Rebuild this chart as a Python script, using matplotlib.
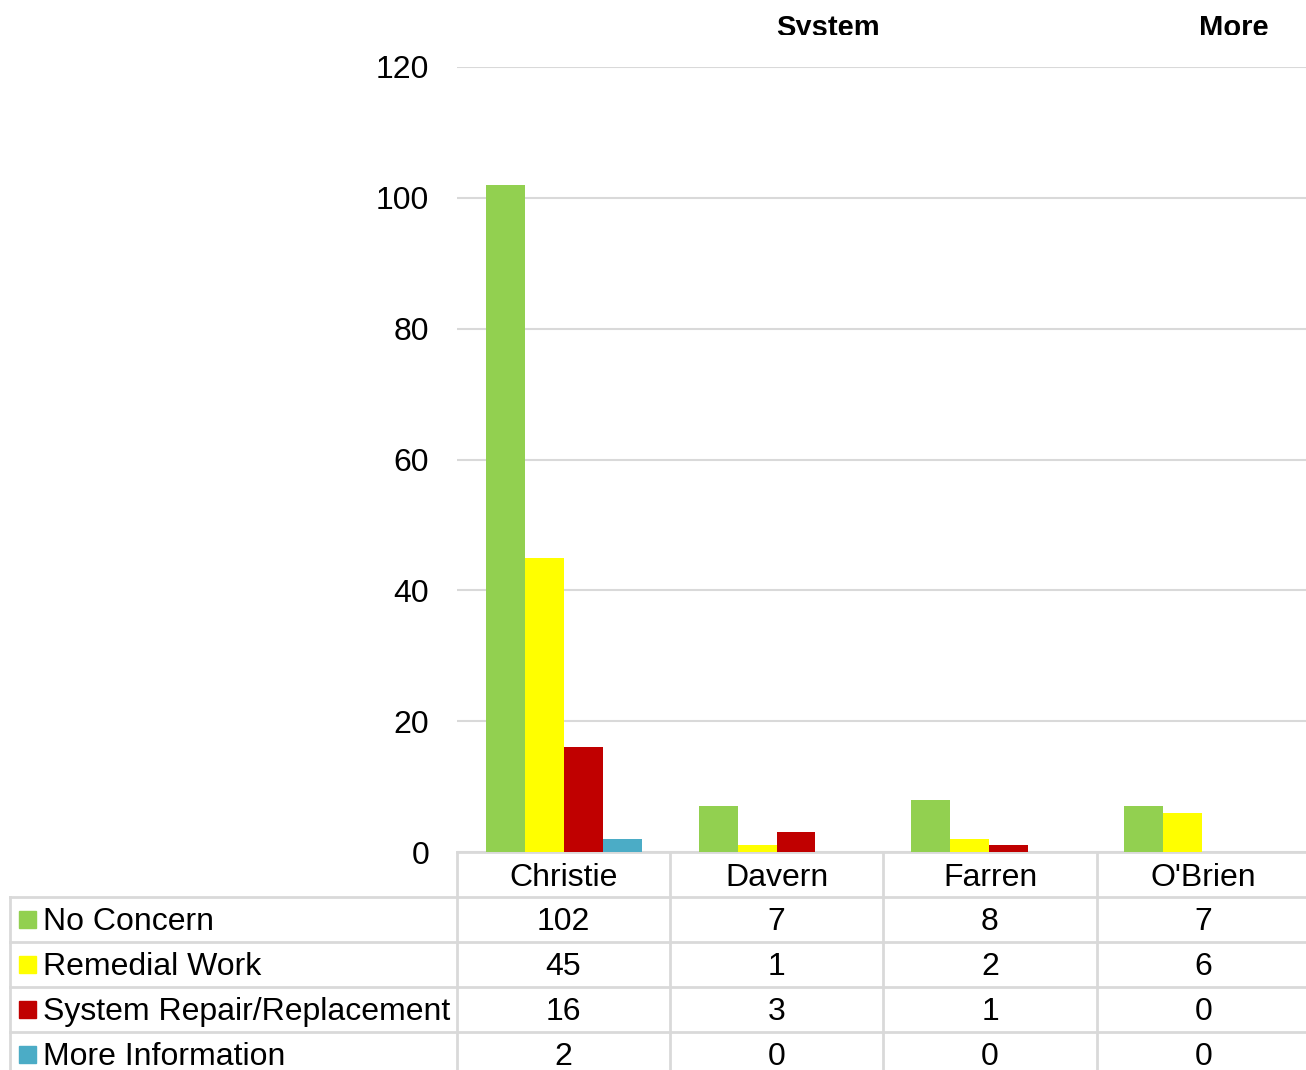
import matplotlib.pyplot as plt
from matplotlib.transforms import Bbox
import numpy as np

plt.rcParams['font.family'] = ['Liberation Sans', 'DejaVu Sans']

# site names and counts per outcome
sites = ["Christie", "Davern", "Farren", "O'Brien"]
series_names = ["No Concern", "Remedial Work", "System Repair/Replacement", "More Information"]
no_concern = [102, 7, 8, 7]
remedial = [45, 1, 2, 6]
repair = [16, 3, 1, 0]
more_info = [2, 0, 0, 0]
colors = ["#92D050", "#FFFF00", "#C00000", "#4BACC6"]

W, H = 1306, 1070
FS = 23
fig = plt.figure(figsize=(W / 100, H / 100), dpi=100)

# plot area in pixels
left, right, top, bottom = 457, 1307, 67, 852
ax = fig.add_axes([left / W, 1 - bottom / H, (right - left) / W, (bottom - top) / H])

all_series = [no_concern, remedial, repair, more_info]
x = np.arange(len(sites))
bw = 0.183
for i, (vals, col) in enumerate(zip(all_series, colors)):
    ax.bar(x + (i - 1.5) * bw + 0.004, vals, width=bw, color=col, zorder=3)

ax.set_xlim(-0.5, len(sites) - 0.5)
ax.set_ylim(0, 120)
ax.set_yticks(range(0, 121, 20))
ax.tick_params(axis='y', length=0, pad=20, labelsize=FS)
ax.set_xticks([])
ax.grid(axis='y', color='#d9d9d9', linewidth=1.5, zorder=0)
for s in ax.spines.values():
    s.set_visible(False)

# data table underneath, drawn on a full-figure pixel grid
tab = fig.add_axes([0, 0, 1, 1], zorder=-1)
tab.set_xlim(0, W)
tab.set_ylim(H, 0)
tab.axis('off')

line_kw = dict(color='#d9d9d9', linewidth=2)
col_edges = [457, 670, 883, 1097, 1310]
row_edges = [852, 897, 942, 987, 1032, 1077]

tab.plot([457, W], [852, 852], **line_kw)
for y in row_edges[1:-1]:
    tab.plot([10, W], [y, y], **line_kw)
tab.plot([10, 10], [897, H], **line_kw)
for xe in col_edges[:-1]:
    tab.plot([xe, xe], [852, H], **line_kw)

for j, name in enumerate(sites):
    cx = (col_edges[j] + col_edges[j + 1]) / 2
    tab.text(cx, 875, name, ha='center', va='center_baseline', fontsize=FS)
    for i, vals in enumerate(all_series):
        cy = (row_edges[i + 1] + row_edges[i + 2]) / 2 - 1
        tab.text(cx, cy, str(vals[j]), ha='center', va='center_baseline', fontsize=FS)

for i, (name, col) in enumerate(zip(series_names, colors)):
    cy = (row_edges[i + 1] + row_edges[i + 2]) / 2
    tab.add_patch(plt.Rectangle((19, cy - 9), 17, 17, color=col))
    tab.text(43, cy - 1, name, ha='left', va='center_baseline', fontsize=FS)

# bold header fragments along the top, cut off at the baseline
clip = Bbox.from_extents(0, H - 35, W, H)
for label, cx in [("System", 828), ("More", 1234)]:
    t = fig.text(cx / W, 1 - 36 / H, label, ha='center', va='baseline',
                 fontsize=21, fontweight='bold')
    t.set_clip_box(clip)
    t.set_clip_on(True)

fig.savefig('out.png', dpi=100)
